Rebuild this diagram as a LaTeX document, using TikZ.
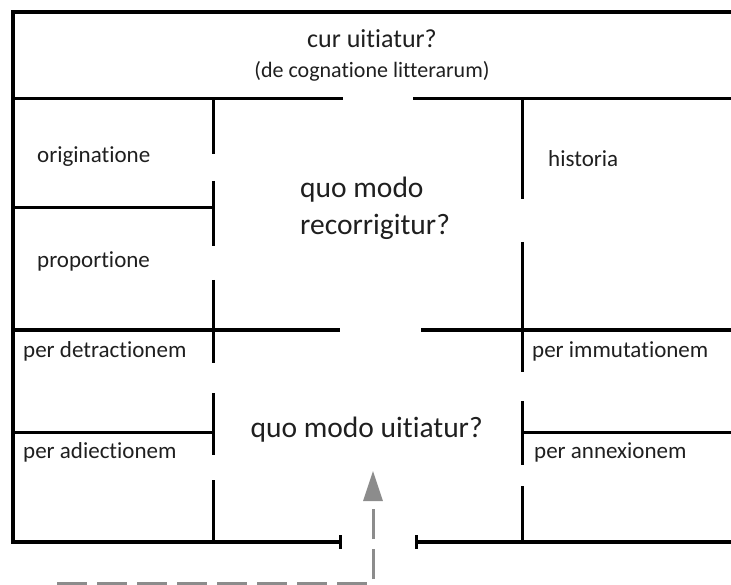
\documentclass[tikz,border=0pt]{standalone}
\usepackage{fontspec}
\setmainfont{Carlito}[Ligatures=NoCommon]
\usetikzlibrary{arrows.meta}
\definecolor{routegray}{RGB}{140,140,140}

\begin{document}
\begin{tikzpicture}[x=1pt,y=-1pt,
  thickwall/.style={line width=4.6pt},
  thinwall/.style={line width=3pt},
  room/.style={anchor=base west,inner sep=0pt,text=black!88,font=\fontsize{23}{27}\selectfont},
  hall/.style={anchor=base west,inner sep=0pt,text=black!88,font=\fontsize{29.5}{35}\selectfont},
  route/.style={routegray,line width=3pt,dash pattern=on 30pt off 10pt}]
  \useasboundingbox (0,0) rectangle (731,585);

  % outer walls
  \draw[thickwall] (731,12) -- (13,12) -- (13,542) -- (340,542);
  \draw[thickwall] (416,542) -- (731,542);
  \draw[thinwall] (340,535) -- (340,549) (416,535) -- (416,549);

  % corridors
  \draw[thinwall] (13,99) -- (343,99) (413,99) -- (731,99);
  \draw[thickwall] (13,330) -- (340,330) (421,330) -- (731,330);

  % side rooms
  \foreach \a/\b in {99/154,181/246,280/363,393/455,480/542}
    \draw[thinwall] (213,\a) -- (213,\b);
  \foreach \a/\b in {99/199,242/372,401/465,486/542}
    \draw[thinwall] (522,\a) -- (522,\b);
  \draw[thinwall] (13,208) -- (213,208) (13,432) -- (213,432) (522,432) -- (731,432);

  \node[hall,anchor=base,font=\fontsize{26}{31}\selectfont] (cur) at (372,48) {cur uitiatur?};
  \node[room,anchor=base,font=\fontsize{22}{26}\selectfont] (cognatio) at (372,78) {(de cognatione litterarum)};

  \node[room] (origo) at (37,163) {originatione};
  \node[room] (proportio) at (37,268) {proportione};
  \node[room] (historia) at (548,167) {historia};
  \node[hall] (recorr) at (300,198) {quo modo};
  \node[hall] (recorr2) at (300,235) {recorrigitur?};

  \node[room] (detractio) at (23,358) {per detractionem};
  \node[room] (adiectio) at (23,458) {per adiectionem};
  \node[room] (immutatio) at (532,358) {per immutationem};
  \node[room] (annexio) at (534,458) {per annexionem};
  \node[hall,anchor=base east] (uitium) at (483,437) {quo modo uitiatur?};

  % way in
  \coordinate (entry) at (57,583);
  \coordinate (turn) at (373,583);
  \coordinate (goal) at (373,471);
  \draw[route,-{Triangle[length=30pt,width=19pt]}] (entry) -- (turn) -- (goal);
\end{tikzpicture}
\end{document}
